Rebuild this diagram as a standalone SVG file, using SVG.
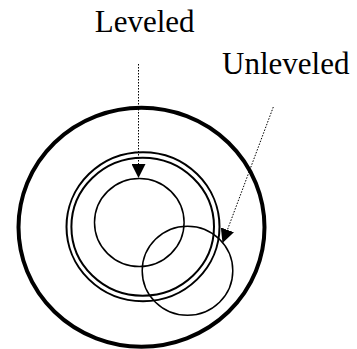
<svg xmlns="http://www.w3.org/2000/svg" width="357" height="349" viewBox="0 0 357 349">
<style>
.lbl{font-family:"Liberation Serif","Times New Roman",serif;font-size:31px;fill:#000}
.ring{fill:none;stroke:#000}
.lead{fill:none;stroke:#000;stroke-width:1;stroke-dasharray:1.5 1.5}
</style>
<defs>
<marker id="ah" markerWidth="14" markerHeight="14" viewBox="0 0 14 14" refX="14" refY="7" orient="auto" markerUnits="userSpaceOnUse">
<path d="M0,0 L14,7 L0,14 Z" fill="#000"/>
</marker>
</defs>
<rect width="357" height="349" fill="#fff"/>
<g id="outer"><ellipse class="ring" cx="141.5" cy="227.3" rx="123" ry="119.5" stroke-width="4"/></g>
<g id="double-ring">
<ellipse class="ring" cx="143" cy="226.7" rx="76.5" ry="74.5" stroke-width="2"/>
<ellipse class="ring" cx="142.7" cy="226.7" rx="71.3" ry="69" stroke-width="2"/>
</g>
<g id="leveled-circle"><ellipse class="ring" cx="139.3" cy="222.5" rx="44.8" ry="44" stroke-width="1.5"/></g>
<g id="unleveled-circle"><ellipse class="ring" cx="187.5" cy="270.8" rx="45.3" ry="44.5" stroke-width="1.5"/></g>
<g id="connectors">
<line class="lead" x1="138.5" y1="64" x2="138.5" y2="178" marker-end="url(#ah)"/>
<line class="lead" x1="273.3" y1="107" x2="222.5" y2="243" marker-end="url(#ah)"/>
</g>
<g id="labels">
<text class="lbl" x="144.7" y="31.7" text-anchor="middle">Leveled</text>
<text class="lbl" x="285.7" y="74" text-anchor="middle">Unleveled</text>
</g>
</svg>
